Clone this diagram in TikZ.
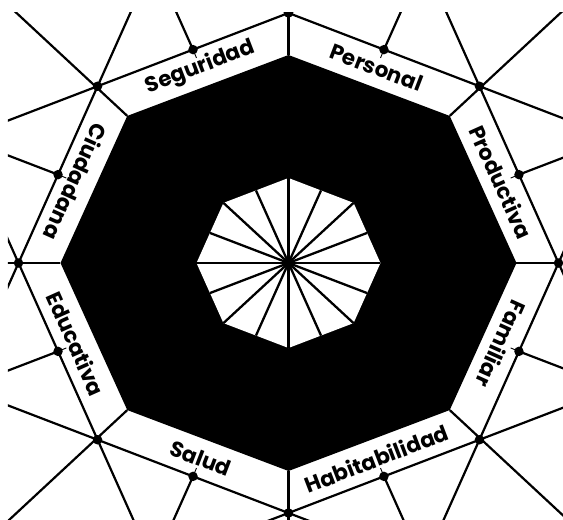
\documentclass[tikz,border=0pt]{standalone}
\usepackage{fontspec}
\newfontfamily\lab{Poppins}
\usetikzlibrary{calc}
\begin{document}
\begin{tikzpicture}[x=1pt,y=1pt,
  ln/.style={line width=2.2pt},
  spoke/.style={line width=2.3pt},
  tick/.style={line width=0.9pt},
  dotm/.style={circle,fill=black,inner sep=0pt,minimum size=9.5pt},
  lbl/.style={font=\lab\bfseries\fontsize{21.5}{21.5}\selectfont,inner sep=0pt}]
\useasboundingbox (-288.5,263) rectangle (274.5,-257);
\coordinate (C) at (0,0);
\foreach \k in {0,...,7} {
  \coordinate (O\k) at ({270*cos(45*\k)},{250*sin(45*\k)});
  \coordinate (B\k) at ({228*cos(45*\k)},{208*sin(45*\k)});
  \coordinate (I\k) at ({92*cos(45*\k)},{85*sin(45*\k)});
}
\foreach \k in {0,...,7} {
  \pgfmathtruncatemacro\j{mod(\k+1,8)}
  \coordinate (M\k) at ($(O\k)!0.5!(O\j)$);
  \coordinate (BM\k) at ($(B\k)!0.5!(B\j)$);
  \coordinate (IM\k) at ($(I\k)!0.5!(I\j)$);
  \coordinate (L\k) at ($(M\k)!0.5!(BM\k)$);
}
\begin{scope}
\clip (-280.5,250) rectangle (274.5,-257);
\foreach \k in {0,...,7} {
  \pgfmathtruncatemacro\j{mod(\k+1,8)}
  \draw[ln] ($(O\k)!-3!(O\j)$) -- ($(O\j)!-3!(O\k)$);
  \draw[ln] (B\k) -- ($(C)!4!(O\k)$);
  \draw[ln] (M\k) -- ($(C)!4!(M\k)$);
  \draw[tick] (M\k) -- ($(M\k)!9pt!(BM\k)$);
}
\fill[black] (B0) -- (B1) -- (B2) -- (B3) -- (B4) -- (B5) -- (B6) -- (B7) -- cycle;
\fill[white] (I0) -- (I1) -- (I2) -- (I3) -- (I4) -- (I5) -- (I6) -- (I7) -- cycle;
\foreach \k in {0,...,7} {
  \draw[spoke] (C) -- (I\k);
  \draw[spoke] (C) -- (IM\k);
  \node[dotm] (dO\k) at (O\k) {};
  \node[dotm] (dM\k) at (M\k) {};
}
\node[dotm] (dC) at (C) {};
\end{scope}
\node[lbl,rotate=-65.9] (t0) at (L0) {Productiva};
\node[lbl,rotate=-21] (t1) at (L1) {Personal};
\node[lbl,rotate=21] (t2) at (L2) {Seguridad};
\node[lbl,rotate=-114.1] (t3) at (L3) {Ciudadana};
\node[lbl,rotate=-65.9] (t4) at (L4) {Educativa};
\node[lbl,rotate=-21] (t5) at (L5) {Salud};
\node[lbl,rotate=21] (t6) at (L6) {Habitabilidad};
\node[lbl,rotate=-114.1] (t7) at (L7) {Familiar};
\end{tikzpicture}
\end{document}
